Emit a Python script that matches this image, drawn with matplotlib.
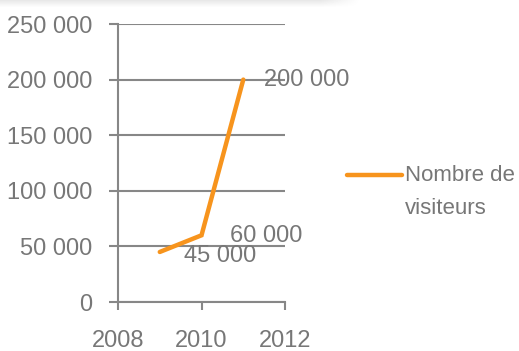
import matplotlib
matplotlib.use('Agg')
import matplotlib.pyplot as plt
import numpy as np
from matplotlib.lines import Line2D

years = [2009, 2010, 2011]
visiteurs = [45000, 60000, 200000]
value_labels = ['45 000', '60 000', '200 000']
label_offsets = [(24, -4), (28, -1), (21, 0)]  # pixels, as Excel placed them
y_ticks = [0, 50000, 100000, 150000, 200000, 250000]
x_ticks = [2008, 2010, 2012]
series_name = 'Nombre de\nvisiteurs'

grey = '#878787'
text_grey = '#777777'
orange = '#f7941d'

plt.rcParams['font.family'] = ['Liberation Sans', 'DejaVu Sans']
plt.rcParams['font.size'] = 17

fig = plt.figure(figsize=(5.19, 3.51), dpi=100)

# faint shadow band along the top edge (left over from the source slide)
shade = fig.add_axes([0, 1 - 8 / 351, 360 / 519, 8 / 351], zorder=0)
yy = np.linspace(1, 0, 8)[:, None]
xx = np.clip((360 - np.arange(360)) / 40, 0, 1)[None, :]
shade.imshow(1 - 0.09 * yy * xx, cmap='gray', vmin=0, vmax=1, aspect='auto')
shade.axis('off')

ax = fig.add_axes([0.2274, 0.1396, 0.3218, 0.792])

ax.plot(years, visiteurs, color=orange, lw=3.2, solid_capstyle='round',
        solid_joinstyle='miter', zorder=3)

for x, y, lab, off in zip(years, visiteurs, value_labels, label_offsets):
    ax.annotate(lab, (x, y), xytext=off, textcoords='offset pixels',
                ha='left', va='center', color=text_grey, fontsize=17, zorder=4)

ax.set_xlim(2008, 2012)
ax.set_ylim(0, 250000)
ax.set_xticks(x_ticks)
ax.set_yticks(y_ticks)
ax.set_yticklabels([f'{v:,}'.replace(',', ' ') for v in y_ticks])

ax.grid(axis='y', color=grey, lw=1.5)
ax.set_axisbelow(True)
for s in ['top', 'right']:
    ax.spines[s].set_visible(False)
for s in ['left', 'bottom']:
    ax.spines[s].set_color(grey)
    ax.spines[s].set_linewidth(1.5)

ax.tick_params(axis='y', length=6.5, width=1.5, color=grey, pad=12, labelcolor=text_grey)
ax.tick_params(axis='x', length=6, width=1.5, color=grey, pad=14, labelcolor=text_grey)

# legend drawn by hand so the line sits level with the first text line
fig.add_artist(Line2D([347 / 519, 402 / 519], [1 - 175 / 351, 1 - 175 / 351],
                      color=orange, lw=3.2, solid_capstyle='round'))
fig.text(405 / 519, 1 - 165 / 351, series_name, ha='left', va='top',
         color=text_grey, fontsize=16, linespacing=1.75)

fig.savefig('out.png', dpi=100)
